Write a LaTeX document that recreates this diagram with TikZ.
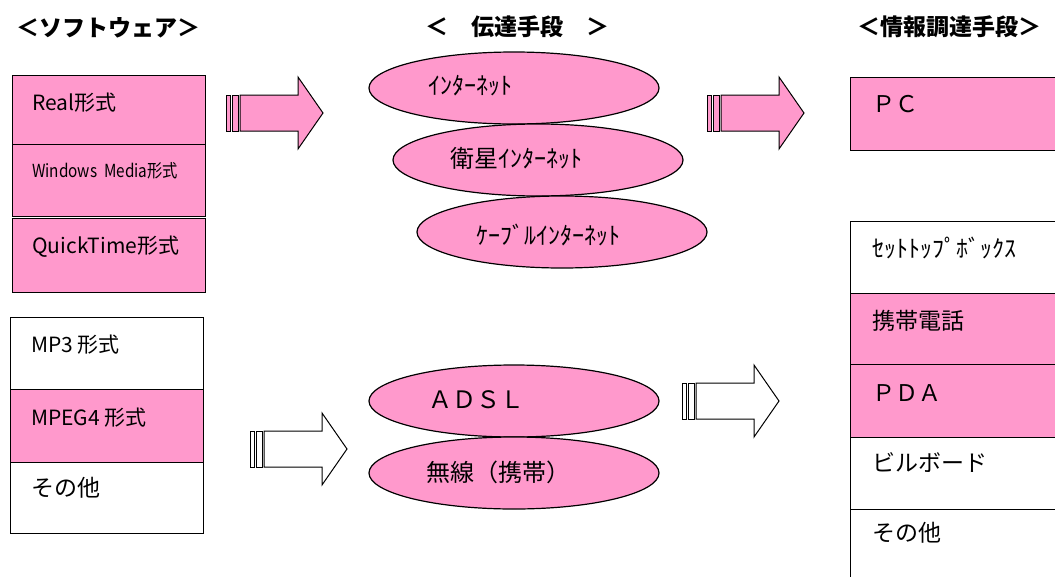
\documentclass[tikz,border=0pt]{standalone}
\usepackage{fontspec}
\setmainfont{Noto Sans CJK JP}
\usetikzlibrary{shapes.geometric}
\definecolor{pk}{HTML}{FF99CC}
\newcommand\blockarrow[3]{%
  \begin{scope}[shift={(#1,#2)}]
    \draw[arr,fill=#3] (0,-18) rectangle (4,18);
    \draw[arr,fill=#3] (6,-18) rectangle (12,18);
    \draw[arr,fill=#3] (14,-18) -- (72,-18) -- (72,-36) -- (97,0) -- (72,36) -- (72,18) -- (14,18) -- cycle;
  \end{scope}}
\begin{document}
\begin{tikzpicture}[x=1pt,y=-1pt,
  box/.style={draw=black,line width=1.2pt,fill=white,anchor=north west,inner sep=0pt,minimum width=#1},
  box/.default=193pt,
  pbox/.style={box=#1,fill=pk},
  pbox/.default=193pt,
  oval/.style={ellipse,draw,line width=1.2pt,fill=pk,minimum width=290pt,minimum height=72pt,inner sep=0pt},
  lbl/.style={anchor=west,inner sep=0pt,font=\fontsize{23}{26}\selectfont},
  lbs/.style={anchor=west,inner sep=0pt,font=\fontsize{21}{24}\selectfont},
  olbl/.style={anchor=west,inner sep=0pt,font=\fontsize{24}{26}\selectfont},
  head/.style={anchor=west,inner sep=0pt,font=\bfseries\fontsize{23}{26}\selectfont},
  arr/.style={draw,line width=1pt,line join=miter}]
\useasboundingbox (0,0) rectangle (1055,576);
\clip (0,0) rectangle (1055,576);

% headers
\node[head] (h1) at (16,28) {＜ソフトウェア＞};
\node[head] (h2) at (425,27) {＜　伝達手段　＞};
\node[head] (h3) at (857,27) {＜情報調達手段＞};

% left top group
\node[pbox, minimum height=69pt] (b1) at (12,75) {};
\node[pbox, minimum height=72pt] (b2) at (12,144) {};
\node[pbox, minimum height=74pt] (b3) at (12,218) {};
\node[lbs] (t1) at (32,103) {Real形式};
\node[anchor=west,inner sep=0pt,font=\fontsize{18}{20}\selectfont] (t2) at (32,171) {\scalebox{0.85}[1]{Windows\ \ Media形式}};
\node[lbs] (t3) at (32,247) {QuickTime形式};

% left bottom group
\node[box, minimum height=72pt] (b4) at (10,317) {};
\node[pbox, minimum height=73pt] (b5) at (10,389) {};
\node[box, minimum height=71pt] (b6) at (10,462) {};
\node[lbs] (t4) at (31,345) {MP3 形式};
\node[lbs] (t5) at (31,418) {MPEG4 形式};
\node[lbl] (t6) at (31,488) {その他};

% arrows
\blockarrow{226}{113}{pk}
\blockarrow{707}{113}{pk}
\blockarrow{250}{449}{white}
\blockarrow{682}{401}{white}

% middle ellipses
\node[oval] (e1) at (514,88) {};
\node[oval] (e2) at (538,160) {};
\node[oval] (e3) at (562,232) {};
\node[olbl] (o1) at (428,86) {ｲﾝﾀｰﾈｯﾄ};
\node[olbl] (o2) at (450,158) {衛星ｲﾝﾀｰﾈｯﾄ};
\node[olbl] (o3) at (476,235) {ｹｰﾌﾞﾙｲﾝﾀｰﾈｯﾄ};

\node[oval] (e4) at (514,401) {};
\node[oval] (e5) at (514,473) {};
\node[olbl] (o4) at (428,400) {ＡＤＳＬ};
\node[olbl] (o5) at (426,472) {無線（携帯）};

% right groups
\node[pbox=220pt, minimum height=73pt] (r1) at (850,77) {};
\node[box=220pt, minimum height=72pt] (r2) at (850,221) {};
\node[pbox=220pt, minimum height=71pt] (r3) at (850,293) {};
\node[pbox=220pt, minimum height=73pt] (r4) at (850,364) {};
\node[box=220pt, minimum height=72pt] (r5) at (850,437) {};
\node[box=220pt, minimum height=80pt] (r6) at (850,509) {};
\node[lbl] (s1) at (872,104) {ＰＣ};
\node[olbl] (s2) at (872,248) {ｾｯﾄﾄｯﾌﾟﾎﾞｯｸｽ};
\node[lbl] (s3) at (872,321) {携帯電話};
\node[lbl] (s4) at (872,393) {ＰＤＡ};
\node[lbl] (s5) at (872,463) {ビルボード};
\node[lbl] (s6) at (872,533) {その他};
\end{tikzpicture}
\end{document}
